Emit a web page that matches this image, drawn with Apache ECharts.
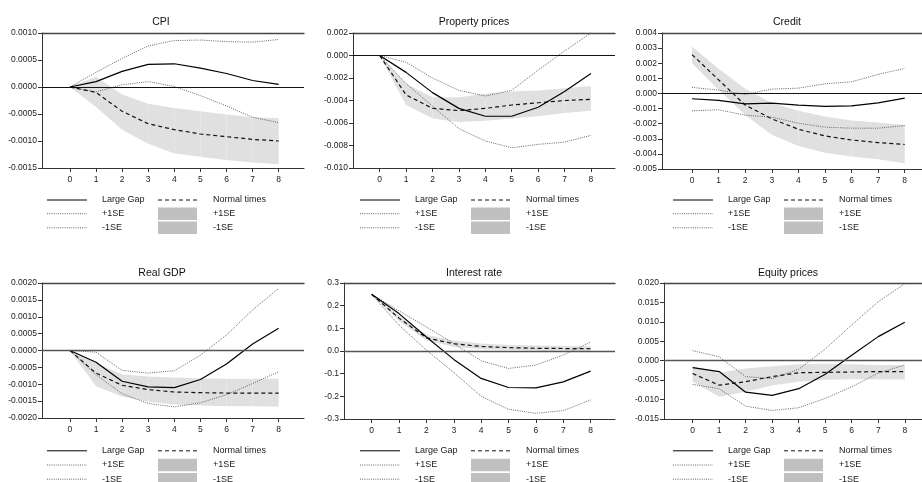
<!DOCTYPE html>
<html>
<head>
<meta charset="utf-8">
<script src="https://cdn.jsdelivr.net/npm/echarts@6/dist/echarts.min.js"></script>
<style>html,body{margin:0;padding:0;background:#fff}#c{width:922px;height:482px}</style>
</head>
<body>
<div id="c"></div>
<script>
// ---- data ----
const steps = [0, 1, 2, 3, 4, 5, 6, 7, 8];

const cpiGap      = [0, 0.00010, 0.00029, 0.00042, 0.00043, 0.00035, 0.00025, 0.00012, 0.00005];
const cpiGapUp    = [0, 0.00027, 0.00053, 0.00076, 0.00086, 0.00087, 0.00084, 0.00083, 0.00088];
const cpiGapLo    = [0, -0.00009, 0.00004, 0.00010, 0.00001, -0.00016, -0.00035, -0.00056, -0.00066];
const cpiNormal   = [0, -0.00010, -0.00045, -0.00068, -0.00079, -0.00087, -0.00092, -0.00097, -0.00100];
const cpiNormalUp = [0, 0.00019, -0.00014, -0.00031, -0.00039, -0.00045, -0.00051, -0.00056, -0.00058];
const cpiNormalLo = [0, -0.00037, -0.00079, -0.00105, -0.00123, -0.00129, -0.00135, -0.00140, -0.00143];

const propGap      = [0, -0.0015, -0.0033, -0.0047, -0.0054, -0.0054, -0.0046, -0.0032, -0.0016];
const propGapUp    = [0, -0.0006, -0.0020, -0.0031, -0.0036, -0.0031, -0.0013, 0.0004, 0.0020];
const propGapLo    = [0, -0.0025, -0.0045, -0.0065, -0.0076, -0.0082, -0.0079, -0.0077, -0.0071];
const propNormal   = [0, -0.0035, -0.0047, -0.0049, -0.0047, -0.0044, -0.0042, -0.0040, -0.0039];
const propNormalUp = [0, -0.0025, -0.0037, -0.0037, -0.0034, -0.0032, -0.0031, -0.0029, -0.0027];
const propNormalLo = [0, -0.0044, -0.0056, -0.0059, -0.0058, -0.0056, -0.0054, -0.0051, -0.0049];

const credGap      = [-0.00035, -0.00046, -0.00069, -0.00064, -0.00077, -0.00086, -0.00082, -0.00062, -0.00031];
const credGapUp    = [0.00040, 0.00022, -0.00007, 0.00029, 0.00035, 0.00064, 0.00077, 0.00126, 0.00166];
const credGapLo    = [-0.00115, -0.00108, -0.00144, -0.00157, -0.00197, -0.00223, -0.00230, -0.00230, -0.00212];
const credNormal   = [0.00257, 0.00090, -0.00077, -0.00168, -0.00237, -0.00281, -0.00308, -0.00325, -0.00338];
const credNormalUp = [0.00310, 0.00164, 0.00031, -0.00064, -0.00115, -0.00153, -0.00179, -0.00192, -0.00208];
const credNormalLo = [0.00200, 0.00024, -0.00142, -0.00274, -0.00347, -0.00392, -0.00418, -0.00436, -0.00462];

const gdpGap      = [0, -0.00035, -0.00091, -0.00108, -0.00110, -0.00086, -0.00040, 0.00019, 0.00066];
const gdpGapUp    = [0, -0.00005, -0.00059, -0.00067, -0.00060, -0.00014, 0.00046, 0.00120, 0.00184];
const gdpGapLo    = [0, -0.00072, -0.00128, -0.00157, -0.00167, -0.00155, -0.00131, -0.00098, -0.00063];
const gdpNormal   = [0, -0.00067, -0.00103, -0.00116, -0.00123, -0.00125, -0.00126, -0.00126, -0.00126];
const gdpNormalUp = [0, -0.00037, -0.00070, -0.00077, -0.00080, -0.00083, -0.00084, -0.00084, -0.00084];
const gdpNormalLo = [0, -0.00106, -0.00136, -0.00152, -0.00160, -0.00163, -0.00165, -0.00165, -0.00167];

const rateGap      = [0.25, 0.165, 0.062, -0.037, -0.121, -0.161, -0.163, -0.136, -0.089];
const rateGapUp    = [0.25, 0.177, 0.106, 0.033, -0.043, -0.077, -0.062, -0.018, 0.039];
const rateGapLo    = [0.25, 0.114, 0.004, -0.095, -0.200, -0.257, -0.275, -0.263, -0.216];
const rateNormal   = [0.25, 0.145, 0.058, 0.032, 0.020, 0.015, 0.012, 0.011, 0.010];
const rateNormalUp = [0.25, 0.158, 0.072, 0.046, 0.033, 0.027, 0.024, 0.022, 0.021];
const rateNormalLo = [0.25, 0.132, 0.046, 0.019, 0.008, 0.004, 0.002, 0.001, 0.000];

const eqGap      = [-0.0018, -0.0028, -0.0081, -0.0089, -0.0072, -0.0035, 0.0014, 0.0062, 0.0099];
const eqGapUp    = [0.0026, 0.0010, -0.0041, -0.0046, -0.0022, 0.0030, 0.0092, 0.0152, 0.0198];
const eqGapLo    = [-0.0061, -0.0072, -0.0117, -0.0128, -0.0121, -0.0097, -0.0067, -0.0032, -0.0011];
const eqNormal   = [-0.0033, -0.0063, -0.0054, -0.0041, -0.0031, -0.0030, -0.0029, -0.0028, -0.0028];
const eqNormalUp = [-0.0014, -0.0031, -0.0020, -0.0014, -0.0009, -0.0008, -0.0009, -0.0011, -0.0011];
const eqNormalLo = [-0.0054, -0.0093, -0.0080, -0.0064, -0.0054, -0.0049, -0.0048, -0.0048, -0.0048];

const titles = ['CPI', 'Property prices', 'Credit', 'Real GDP', 'Interest rate', 'Equity prices'];
const legendLabels = ['Large Gap', 'Normal times', '+1SE', '-1SE'];

// ---- layout ----
const FONT = 'Liberation Sans, Arial, sans-serif';
const panels = [
  {gap: cpiGap, up: cpiGapUp, lo: cpiGapLo, n: cpiNormal, nUp: cpiNormalUp, nLo: cpiNormalLo,
   grid: {left: 42, top: 33, width: 262, height: 135}, xr: [-1.07, 8.97],
   y: [-0.0015, 0.0010, 0.0005], dec: 4, titleX: 156, titleY: 11.5, bx: 0, row: 0},
  {gap: propGap, up: propGapUp, lo: propGapLo, n: propNormal, nUp: propNormalUp, nLo: propNormalLo,
   grid: {left: 353, top: 33, width: 262, height: 135}, xr: [-1.01, 8.91],
   y: [-0.010, 0.002, 0.002], dec: 3, titleX: 469, titleY: 11.5, bx: 313, row: 0},
  {gap: credGap, up: credGapUp, lo: credGapLo, n: credNormal, nUp: credNormalUp, nLo: credNormalLo,
   grid: {left: 662, top: 33, width: 260, height: 136}, xr: [-1.13, 8.65],
   y: [-0.005, 0.004, 0.001], dec: 3, titleX: 782, titleY: 11.5, bx: 626, row: 0},
  {gap: gdpGap, up: gdpGapUp, lo: gdpGapLo, n: gdpNormal, nUp: gdpNormalUp, nLo: gdpNormalLo,
   grid: {left: 42, top: 283, width: 262, height: 135}, xr: [-1.07, 8.97],
   y: [-0.0020, 0.0020, 0.0005], dec: 4, titleX: 157, titleY: 262.5, bx: 0, row: 1},
  {gap: rateGap, up: rateGapUp, lo: rateGapLo, n: rateNormal, nUp: rateNormalUp, nLo: rateNormalLo,
   grid: {left: 344, top: 283, width: 271, height: 136}, xr: [-1.01, 8.89],
   y: [-0.3, 0.3, 0.1], dec: 1, titleX: 469, titleY: 262.5, bx: 313, row: 1},
  {gap: eqGap, up: eqGapUp, lo: eqGapLo, n: eqNormal, nUp: eqNormalUp, nLo: eqNormalLo,
   grid: {left: 664, top: 283, width: 258, height: 136}, xr: [-1.08, 8.65],
   y: [-0.015, 0.020, 0.005], dec: 3, titleX: 783, titleY: 262.5, bx: 626, row: 1}
];

const pairs = arr => steps.map((s, i) => [s, arr[i]]);
// band segments: [x0, lo0, up0, x1, lo1, up1]
const bandSegments = (lo, up) => steps.slice(0, -1).map((s, i) =>
  [s, lo[i], up[i], steps[i + 1], lo[i + 1], up[i + 1]]);

function renderBand(params, api) {
  const a = api.coord([api.value(0), api.value(1)]);
  const b = api.coord([api.value(0), api.value(2)]);
  const c = api.coord([api.value(3), api.value(5)]);
  const d = api.coord([api.value(3), api.value(4)]);
  return {
    type: 'polygon',
    shape: {points: [a, b, c, d]},
    style: {fill: '#e0e0e0', stroke: null}
  };
}

const option = {
  animation: false,
  backgroundColor: '#fff',
  title: [], grid: [], xAxis: [], yAxis: [], series: [], graphic: []
};

panels.forEach((p, k) => {
  option.title.push({
    text: titles[k], left: p.titleX, top: p.titleY, textAlign: 'center',
    textStyle: {fontFamily: FONT, fontSize: 10.5, fontWeight: 'normal', color: '#111'}
  });
  option.grid.push(Object.assign({containLabel: false}, p.grid));
  const labelStyle = {fontFamily: FONT, fontSize: 8.5, color: '#222'};
  option.xAxis.push({
    type: 'value', gridIndex: k, min: p.xr[0], max: p.xr[1], position: 'bottom',
    splitLine: {show: false},
    axisLine: {show: true, onZero: false, lineStyle: {color: '#333', width: 1}},
    axisTick: {show: true, length: 4, customValues: steps, lineStyle: {color: '#333'}},
    axisLabel: Object.assign({customValues: steps, margin: 7, formatter: v => String(v)}, labelStyle)
  });
  option.xAxis.push({
    type: 'value', gridIndex: k, min: p.xr[0], max: p.xr[1], position: 'top',
    splitLine: {show: false},
    axisLine: {show: true, onZero: false, lineStyle: {color: '#444', width: 1.3}},
    axisTick: {show: false}, axisLabel: {show: false}
  });
  option.yAxis.push({
    type: 'value', gridIndex: k, min: p.y[0], max: p.y[1], interval: p.y[2],
    splitLine: {show: false},
    axisLine: {show: true, onZero: false, lineStyle: {color: '#333', width: 1}},
    axisTick: {show: true, length: 4, lineStyle: {color: '#333'}},
    axisLabel: Object.assign({margin: 5, formatter: v => v.toFixed(p.dec)}, labelStyle)
  });
  const xi = k * 2;
  const base = {type: 'line', xAxisIndex: xi, yAxisIndex: k, symbol: 'none', silent: true, z: 3};
  // shaded band for Normal times +/-1SE
  option.series.push({
    type: 'custom', name: 'Normal band ' + k, xAxisIndex: xi, yAxisIndex: k,
    renderItem: renderBand, data: bandSegments(p.nLo, p.nUp),
    encode: {x: [0, 3], y: [1, 2, 4, 5]}, silent: true, clip: true, z: 1
  });
  option.series.push(Object.assign({}, base, {
    name: '+1SE ' + k, data: pairs(p.up),
    lineStyle: {color: '#555', width: 0.9, type: [1, 1.2]}
  }));
  option.series.push(Object.assign({}, base, {
    name: '-1SE ' + k, data: pairs(p.lo),
    lineStyle: {color: '#555', width: 0.9, type: [1, 1.2]}
  }));
  option.series.push(Object.assign({}, base, {
    name: 'Normal ' + k, data: pairs(p.n),
    lineStyle: {color: '#111', width: 1.2, type: [4, 3]}
  }));
  option.series.push(Object.assign({}, base, {
    name: 'Gap ' + k, data: pairs(p.gap),
    lineStyle: {color: '#000', width: 1.2},
    markLine: {
      silent: true, symbol: 'none', label: {show: false},
      lineStyle: {color: p.row ? '#555' : '#111', width: p.row ? 1.4 : 1, type: 'solid'},
      data: [{yAxis: 0}]
    }
  }));

  // legend block (annotation)
  const rows = p.row ? [450.8, 465, 479.2] : [200, 213.7, 227.8];
  const bx = p.bx;
  const txt = (x, y, s) => ({type: 'text', x: bx + x, y: y, silent: true,
    style: {text: s, fontFamily: FONT, fontSize: 9, fill: '#222', verticalAlign: 'middle'}});
  const ln = (x1, x2, y, stroke, w, dash) => ({type: 'line', silent: true,
    shape: {x1: bx + x1, y1: y, x2: bx + x2, y2: y},
    style: {stroke: stroke, lineWidth: w, lineDash: dash || null}});
  option.graphic.push(
    ln(47, 87, rows[0], '#000', 1),
    txt(102, rows[0], legendLabels[0]),
    ln(158, 197, rows[0], '#111', 1, [4, 3]),
    txt(213, rows[0], legendLabels[1]),
    ln(47, 87, rows[1], '#555', 0.9, [1, 1.2]),
    txt(102, rows[1], legendLabels[2]),
    ln(47, 87, rows[2], '#555', 0.9, [1, 1.2]),
    txt(102, rows[2], legendLabels[3]),
    {type: 'rect', silent: true, shape: {x: bx + 158, y: rows[1] - 6.3, width: 39, height: 12.6}, style: {fill: '#c0c0c0'}},
    txt(213, rows[1], legendLabels[2]),
    {type: 'rect', silent: true, shape: {x: bx + 158, y: rows[2] - 6.3, width: 39, height: 12.6}, style: {fill: '#c0c0c0'}},
    txt(213, rows[2], legendLabels[3])
  );
});

const chart = echarts.init(document.getElementById('c'), null, {renderer: 'canvas'});
chart.setOption(option);
</script>
</body>
</html>
